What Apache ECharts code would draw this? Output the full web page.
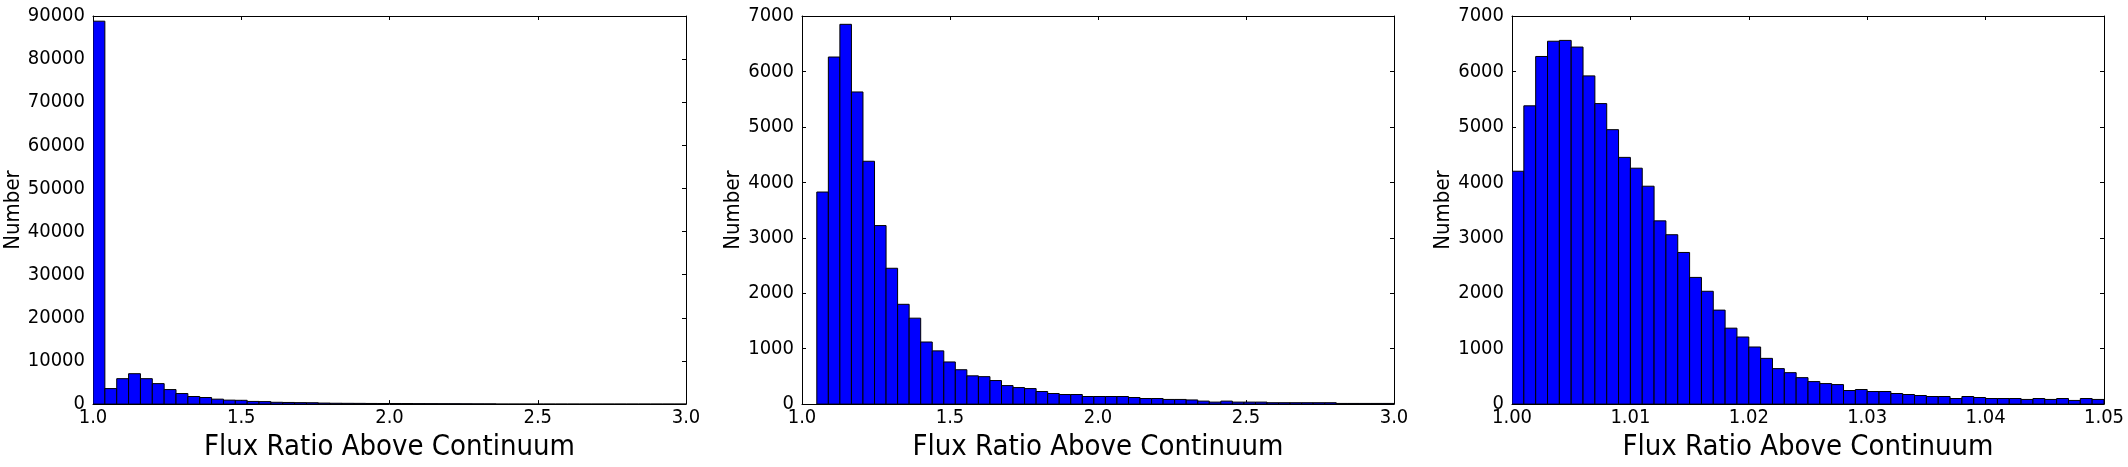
<!DOCTYPE html>
<html lang="en">
<head>
    <meta charset="UTF-8">
    <title>Flux Ratio histograms</title>
    <style>
        *{
            padding:0;
            margin:0;
        }
        body{
            background:#fff;
        }
    </style>
    <script type="text/javascript" src="https://cdn.jsdelivr.net/npm/echarts@6/dist/echarts.min.js"></script>
</head>
<body>
    <div id="main" style="width:2128px;height:467px;"></div>
    <script type="text/javascript">
    // histogram counts (50 bins per panel)
    var binStart1 = 1.0, binWidth1 = 0.04;
    var counts1 = [88800, 3600, 5900, 7050, 5900, 4750, 3370, 2450, 1760, 1530,
        1150, 920, 880, 620, 580, 420, 380, 340, 320, 240,
        200, 180, 170, 150, 140, 140, 130, 110, 100, 90,
        85, 70, 55, 50, 0, 0, 0, 0, 0, 0,
        0, 0, 0, 0, 0, 0, 0, 0, 0, 0];

    var binStart2 = 1.05, binWidth2 = 0.039;
    var counts2 = [3825, 6260, 6850, 5630, 4380, 3220, 2450, 1800, 1550, 1120,
        960, 760, 620, 510, 495, 425, 334, 298, 280, 227,
        191, 173, 173, 137, 137, 137, 137, 119, 101, 101,
        84, 84, 75, 54, 36, 54, 36, 36, 36, 25,
        25, 25, 25, 25, 25, 12, 12, 12, 12, 12];

    var binStart3 = 1.0, binWidth3 = 0.001;
    var counts3 = [4200, 5380, 6270, 6545, 6560, 6440, 5920, 5420, 4950, 4450,
        4255, 3930, 3305, 3055, 2735, 2285, 2035, 1695, 1370, 1210,
        1030, 825, 640, 567, 477, 406, 370, 352, 245, 263,
        227, 227, 191, 173, 155, 137, 137, 101, 137, 119,
        101, 101, 101, 84, 101, 84, 101, 66, 101, 84];

    var xTicks1 = [1.0, 3.0, 0.5];   // min, max, step
    var xTicks3 = [1.0, 1.05, 0.01];
    var yTicks1 = [0, 90000, 10000];
    var yTicks2 = [0, 7000, 1000];

    var xTitle = 'Flux Ratio Above Continuum';
    var yTitle = 'Number';

    // the reference text looks narrow, try condensed faces first
    var FONT = "'DejaVu Sans Condensed', 'Liberation Sans Narrow', 'DejaVu Sans'";

    function toBins(start, width, counts) {
        return counts.map(function (c, i) {
            return [start + i * width, start + (i + 1) * width, c];
        });
    }

    var panels = [
        { left: 93, width: 593, bins: toBins(binStart1, binWidth1, counts1), x: xTicks1, y: yTicks1, dec: 1, nameGap: 53 },
        { left: 802, width: 592, bins: toBins(binStart2, binWidth2, counts2), x: xTicks1, y: yTicks2, dec: 1, nameGap: 37 },
        { left: 1512, width: 592, bins: toBins(binStart3, binWidth3, counts3), x: xTicks3, y: yTicks2, dec: 2, nameGap: 37 }
    ];

    var grids = [], xAxes = [], yAxes = [], series = [];

    var lineStyle = { color: '#000', width: 1 };
    var tick = { show: true, inside: true, length: 4, lineStyle: lineStyle };

    panels.forEach(function (p, i) {
        grids.push({ left: p.left, top: 16, width: p.width, height: 391, show: false });

        // bottom axis with labels and title
        xAxes.push({
            gridIndex: i, type: 'value', position: 'bottom',
            min: p.x[0], max: p.x[1], interval: p.x[2],
            axisLine: { show: true, onZero: false, lineStyle: lineStyle },
            axisTick: tick,
            splitLine: { show: false },
            axisLabel: {
                color: '#000', fontFamily: FONT, fontSize: 20, margin: 4,
                formatter: function (v) { return v.toFixed(p.dec); }
            },
            name: xTitle, nameLocation: 'middle', nameGap: 28,
            nameTextStyle: { color: '#000', fontFamily: FONT, fontSize: 29 }
        });
        // top mirror axis, ticks only
        xAxes.push({
            gridIndex: i, type: 'value', position: 'top',
            min: p.x[0], max: p.x[1], interval: p.x[2],
            axisLine: { show: true, onZero: false, lineStyle: lineStyle },
            axisTick: tick,
            splitLine: { show: false },
            axisLabel: { show: false }
        });

        yAxes.push({
            gridIndex: i, type: 'value', position: 'left',
            min: p.y[0], max: p.y[1], interval: p.y[2],
            axisLine: { show: true, onZero: false, lineStyle: lineStyle },
            axisTick: tick,
            splitLine: { show: false },
            axisLabel: {
                color: '#000', fontFamily: FONT, fontSize: 20, margin: 8,
                formatter: function (v) { return String(v); }
            },
            name: yTitle, nameLocation: 'middle', nameGap: p.nameGap,
            nameTextStyle: { color: '#000', fontFamily: FONT, fontSize: 22 }
        });
        yAxes.push({
            gridIndex: i, type: 'value', position: 'right',
            min: p.y[0], max: p.y[1], interval: p.y[2],
            axisLine: { show: true, onZero: false, lineStyle: lineStyle },
            axisTick: tick,
            splitLine: { show: false },
            axisLabel: { show: false }
        });

        series.push({
            type: 'custom',
            xAxisIndex: i * 2,
            yAxisIndex: i * 2,
            clip: true,
            encode: { x: [0, 1], y: 2 },
            data: p.bins,
            renderItem: function (params, api) {
                var p0 = api.coord([api.value(0), api.value(2)]);
                var p1 = api.coord([api.value(1), 0]);
                return {
                    type: 'rect',
                    shape: { x: p0[0], y: p0[1], width: p1[0] - p0[0], height: p1[1] - p0[1] },
                    style: { fill: '#0000ff', stroke: '#000', lineWidth: 1 }
                };
            }
        });
    });

    var myChart = echarts.init(document.getElementById('main'));
    myChart.setOption({
        animation: false,
        textStyle: { fontFamily: FONT },
        grid: grids,
        xAxis: xAxes,
        yAxis: yAxes,
        series: series
    });
    </script>
</body>
</html>
